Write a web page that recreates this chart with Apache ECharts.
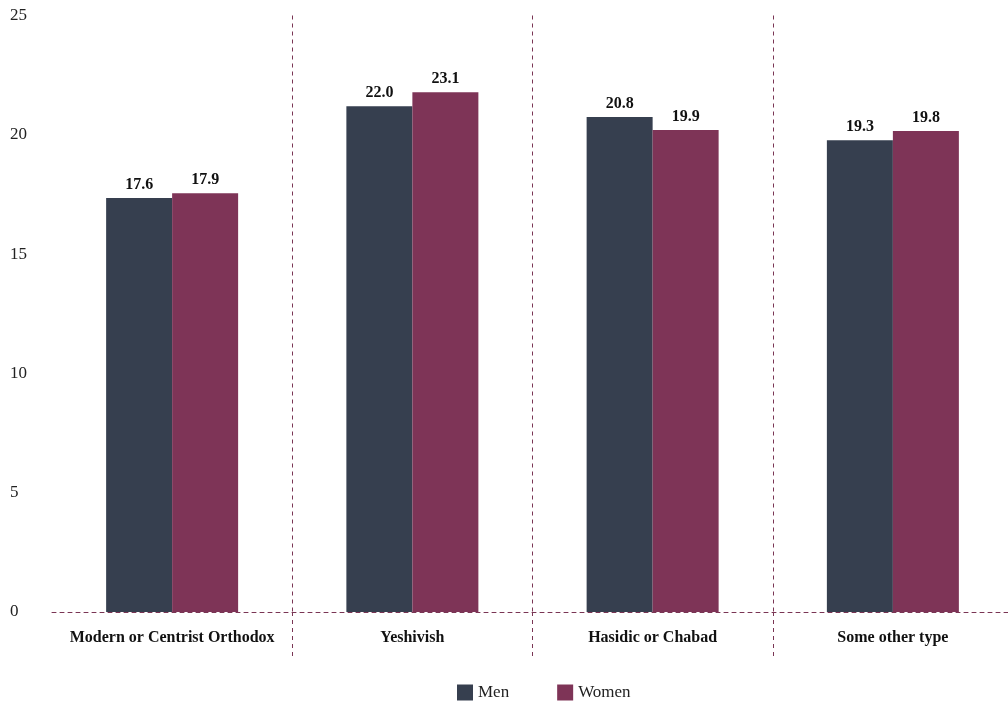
<!DOCTYPE html>
<html>
<head>
<meta charset="utf-8">
<script src="https://cdn.jsdelivr.net/npm/echarts@6/dist/echarts.min.js"></script>
<style>
html,body{margin:0;padding:0;background:#fff;}
#chart{width:1008px;height:702px;}
</style>
</head>
<body>
<div id="chart"></div>
<script>
const categories = ['Modern or Centrist Orthodox', 'Yeshivish', 'Hasidic or Chabad', 'Some other type'];
const seriesNames = ['Men', 'Women'];
// bar heights as drawn in the reference
const menValues = [17.35, 21.2, 20.75, 19.77];
const womenValues = [17.55, 21.78, 20.2, 20.16];
// printed value labels
const menLabels = ['17.6', '22.0', '20.8', '19.3'];
const womenLabels = ['17.9', '23.1', '19.9', '19.8'];
const yTicks = [0, 5, 10, 15, 20, 25];

const FONT = 'Liberation Serif';
const LINE = '#7a3554';
const chart = echarts.init(document.getElementById('chart'), null, {renderer: 'canvas'});
chart.setOption({
  animation: false,
  textStyle: {fontFamily: FONT},
  grid: {left: 52, width: 961, top: 15.5, bottom: 90, containLabel: false, outerBoundsMode: 'none'},
  legend: {
    top: 679, left: 452,
    itemWidth: 16, itemHeight: 16, itemGap: 48,
    icon: 'rect',
    textStyle: {fontFamily: FONT, fontSize: 17, color: '#222'},
    data: seriesNames
  },
  xAxis: {
    type: 'category',
    data: categories,
    axisLine: {show: true, lineStyle: {color: LINE, type: [4, 4], width: 1}},
    axisTick: {show: true, length: 48, interval: (i) => i > 0, lineStyle: {color: LINE, type: [4, 4], width: 1}},
    splitLine: {show: true, showMinLine: false, showMaxLine: false, interval: 0, lineStyle: {color: LINE, type: [4, 4], width: 1}},
    axisLabel: {interval: 0, fontFamily: FONT, fontWeight: 'bold', fontSize: 16, color: '#111', margin: 18}
  },
  yAxis: {
    type: 'value',
    min: 0, max: 25, interval: 5,
    axisLine: {show: false},
    axisTick: {show: false},
    splitLine: {show: false},
    axisLabel: {fontFamily: FONT, fontSize: 17, color: '#222', align: 'left', margin: 42,
      formatter: (v) => yTicks.includes(v) ? String(v) : ''}
  },
  series: [
    {
      name: seriesNames[0], type: 'bar', data: menValues,
      barWidth: 66, barGap: '0%',
      itemStyle: {color: '#363f4f'},
      label: {show: true, position: 'top', distance: 5, fontFamily: FONT, fontWeight: 'bold', fontSize: 16, color: '#111',
        formatter: (p) => menLabels[p.dataIndex]}
    },
    {
      name: seriesNames[1], type: 'bar', data: womenValues,
      barWidth: 66, barGap: '0%',
      itemStyle: {color: '#7e3457'},
      label: {show: true, position: 'top', distance: 5, fontFamily: FONT, fontWeight: 'bold', fontSize: 16, color: '#111',
        formatter: (p) => womenLabels[p.dataIndex]}
    }
  ]
});
</script>
</body>
</html>
